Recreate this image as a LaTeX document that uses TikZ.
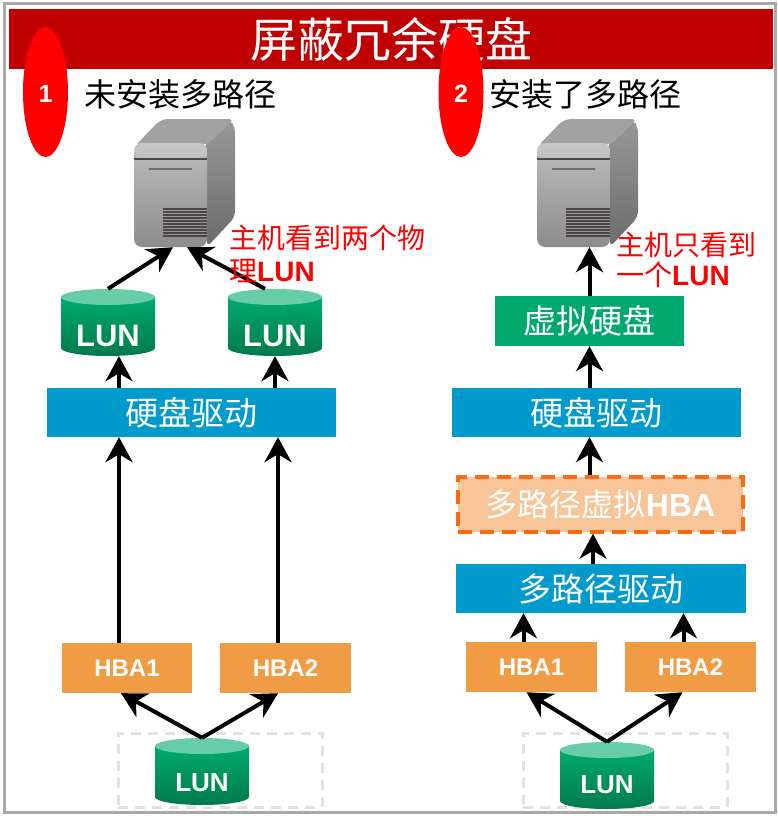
\documentclass[tikz,border=0pt]{standalone}
\usepackage{fontspec}
\setmainfont{Liberation Sans}
\newfontfamily\cjk{Noto Sans CJK SC}
\usetikzlibrary{arrows.meta,shapes.geometric}

\definecolor{titlered}{HTML}{C00000}
\definecolor{markred}{HTML}{FF0000}
\definecolor{drvblue}{HTML}{009ACD}
\definecolor{hbaorange}{HTML}{F09C45}
\definecolor{vdgreen}{HTML}{00A86E}
\definecolor{vhbafill}{HTML}{F7C597}
\definecolor{vhbaline}{HTML}{FF6A10}
\definecolor{lunTop}{HTML}{00AA6F}
\definecolor{lunBot}{HTML}{007A4C}
\definecolor{lunCap}{HTML}{66CDA8}
\definecolor{framegray}{HTML}{A8A8A8}
\definecolor{slotgray}{HTML}{E2E2E2}
\definecolor{srvFrontTop}{HTML}{BDBDBD}
\definecolor{srvFrontBot}{HTML}{8C8C8C}
\definecolor{srvSideTop}{HTML}{979797}
\definecolor{srvSideBot}{HTML}{6C6C6C}
\definecolor{srvTopFace}{HTML}{A2A2A2}
\definecolor{srvLine}{HTML}{4C4646}

% storage drum: #1 = centre x, #2 = top y
\newcommand\lundrum[2]{%
  \begin{scope}[shift={(#1,#2)}]
    \shade[top color=lunTop,bottom color=lunBot]
      (-47,8) -- (-47,59) arc[start angle=180,end angle=360,x radius=47pt,y radius=8pt]
      -- (47,8) -- cycle;
    \fill[lunCap] (0,8) ellipse[x radius=47pt,y radius=8pt];
  \end{scope}}

% tower server: #1 = left x, #2 = top y
\newcommand\towerserver[2]{%
  \begin{scope}[shift={(#1,#2)}]
    \shade[top color=srvSideTop,bottom color=srvSideBot,rounded corners=6pt]
      (70,27) -- (96,1) -- (101,8) -- (101,98) -- (73,128) -- cycle;
    \fill[srvTopFace,rounded corners=7pt]
      (0,28) -- (27,0) -- (101,0) -- (73,26) -- cycle;
    \shade[top color=srvFrontTop,bottom color=srvFrontBot,rounded corners=8pt]
      (0,24) rectangle (73,128);
    \fill[white,opacity=0.15,rounded corners=8pt] (0,24) rectangle (73,40);
    \draw[srvLine,line width=1.6pt] (0,40) -- (73,40);
    \draw[srvLine!80,line width=2pt] (15,50) -- (58,50);
    \foreach \v in {90,93,...,118}
      \draw[srvLine,line width=1.1pt] (29,\v) -- (73,\v);
  \end{scope}}

\tikzset{
  arr/.style={line width=4pt,-{Stealth[length=25pt,width=27pt,inset=8pt]}},
  bluebox/.style={fill=drvblue,text=white,inner sep=0pt,
    font=\cjk\fontsize{33}{36}\selectfont},
  greenbox/.style={fill=vdgreen,text=white,inner sep=0pt,
    font=\cjk\fontsize{33}{36}\selectfont},
  hbabox/.style={fill=hbaorange,text=white,inner sep=0pt,minimum height=50pt,
    font=\bfseries\fontsize{24}{26}\selectfont},
  vhbabox/.style={fill=vhbafill,draw=vhbaline,line width=3.5pt,
    dash pattern=on 14pt off 8pt,text=white,inner sep=0pt,
    font=\fontsize{32}{35}\selectfont},
  lunbox/.style={inner sep=0pt,minimum width=94pt,minimum height=67pt},
  luntext/.style={text=white,inner sep=0pt,font=\bfseries\fontsize{#1}{#1}\selectfont},
  slot/.style={draw=slotgray,line width=3pt,dash pattern=on 10pt off 7pt,
    inner sep=0pt,minimum width=204pt,minimum height=74pt},
  nummark/.style={ellipse,fill=markred,inner sep=0pt,minimum width=45pt,minimum height=130pt},
  numtext/.style={text=white,inner sep=0pt,font=\bfseries\fontsize{25}{27}\selectfont},
  heading/.style={anchor=west,inner sep=0pt,font=\cjk\fontsize{32}{34}\selectfont},
  note/.style={anchor=west,inner sep=0pt,text=markred,align=left},
  srvbox/.style={inner sep=0pt,minimum width=101pt,minimum height=128pt},
}

\begin{document}
\begin{tikzpicture}[x=1pt,y=-1pt]
  \useasboundingbox (0,0) rectangle (778,816);
  \fill[white] (0,0) rectangle (778,816);
  \draw[framegray,line width=3pt] (4.5,3.5) rectangle (775.5,812);

  % title bar
  \fill[titlered] (9,9) rectangle (773,69);
  \node[text=white,inner sep=0pt,font=\cjk\fontsize{47}{50}\selectfont]
    (title) at (391,39) {屏蔽冗余硬盘};

  % section markers
  \node[nummark] (m1) at (45.5,92) {};
  \node[numtext] (d1) at (45.5,94) {1};
  \node[nummark] (m2) at (461,92) {};
  \node[numtext] (d2) at (461,94) {2};
  \node[heading] (h1) at (84,94) {未安装多路径};
  \node[heading] (h2) at (489,94) {安装了多路径};

  % ---------- left: without multipath ----------
  \towerserver{134}{119}
  \node[srvbox] (srvL) at (184.5,183) {};

  \lundrum{108}{289}
  \node[lunbox] (lunA) at (108,322.5) {};
  \node[luntext=31] (lunAt) at (108,336) {LUN};
  \lundrum{275}{289}
  \node[lunbox] (lunB) at (275,322.5) {};
  \node[luntext=31] (lunBt) at (275,336) {LUN};

  \node[bluebox,minimum width=289pt,minimum height=49pt] (diskL) at (191.5,412.5) {硬盘驱动};

  \node[hbabox,minimum width=130pt] (hbaL1) at (127,668) {HBA1};
  \node[hbabox,minimum width=131pt] (hbaL2) at (285.5,668) {HBA2};

  \node[slot] (slotL) at (220,770) {};
  \lundrum{202}{738}
  \node[lunbox] (lunC) at (202,771.5) {};
  \node[luntext=26] (lunCt) at (202,783) {LUN};

  \draw[arr] (lunA.north) -- ([xshift=-11.5pt]srvL.south);
  \draw[arr] ([xshift=-10pt]lunB.north) -- ([xshift=2.5pt]srvL.south);
  \draw[arr] ([xshift=11pt]lunA.south |- diskL.north) -- ([xshift=11pt]lunA.south);
  \draw[arr] (lunB.south |- diskL.north) -- (lunB.south);
  \draw[arr] ([xshift=-8pt]hbaL1.north) -- ([xshift=-8pt]hbaL1.north |- diskL.south);
  \draw[arr] ([xshift=-7.5pt]hbaL2.north) -- ([xshift=-7.5pt]hbaL2.north |- diskL.south);
  \draw[arr] (lunC.north) -- ([xshift=-6pt]hbaL1.south);
  \draw[arr] (lunC.north) -- ([xshift=-7.5pt]hbaL2.south);

  \node[note,font=\fontsize{28}{33}\selectfont] (noteL) at (229,253.5)
    {{\cjk 主机看到两个物}\\{\cjk 理}\textbf{LUN}};

  % ---------- right: with multipath ----------
  \towerserver{537}{119}
  \node[srvbox] (srvR) at (587.5,183) {};

  \node[greenbox,minimum width=189pt,minimum height=50pt] (vbox) at (589.5,321) {虚拟硬盘};
  \node[bluebox,minimum width=289pt,minimum height=49pt] (diskR) at (596.5,412.5) {硬盘驱动};
  \node[vhbabox,minimum width=285pt,minimum height=55pt] (vhba) at (600.5,504.5)
    {{\cjk 多路径虚拟}\textbf{HBA}};
  \node[bluebox,minimum width=290pt,minimum height=49pt] (mpdrv) at (601,588.5) {多路径驱动};

  \node[hbabox,minimum width=131pt] (hbaR1) at (531.5,667) {HBA1};
  \node[hbabox,minimum width=131pt] (hbaR2) at (690.5,667) {HBA2};

  \node[slot] (slotR) at (625,770) {};
  \lundrum{607}{742}
  \node[lunbox] (lunD) at (607,775.5) {};
  \node[luntext=26] (lunDt) at (607,785) {LUN};

  \draw[arr] (vbox.north) -- (vbox.north |- srvR.south);
  \draw[arr] (vbox.south |- diskR.north) -- (vbox.south);
  \draw[arr] (vbox.south |- vhba.north) -- (vbox.south |- diskR.south);
  \draw[arr] ([xshift=-8pt]mpdrv.north) -- ([xshift=-8pt]mpdrv.north |- vhba.south);
  \draw[arr] ([xshift=-8pt]hbaR1.north) -- ([xshift=-8pt]hbaR1.north |- mpdrv.south);
  \draw[arr] ([xshift=-7pt]hbaR2.north) -- ([xshift=-7pt]hbaR2.north |- mpdrv.south);
  \draw[arr] (lunD.north) -- ([xshift=-5pt]hbaR1.south);
  \draw[arr] (lunD.north) -- ([xshift=-8pt]hbaR2.south);

  \node[note,font=\fontsize{28}{30}\selectfont] (noteR) at (616,260)
    {{\cjk 主机只看到}\\{\cjk 一个}\textbf{LUN}};
\end{tikzpicture}
\end{document}
